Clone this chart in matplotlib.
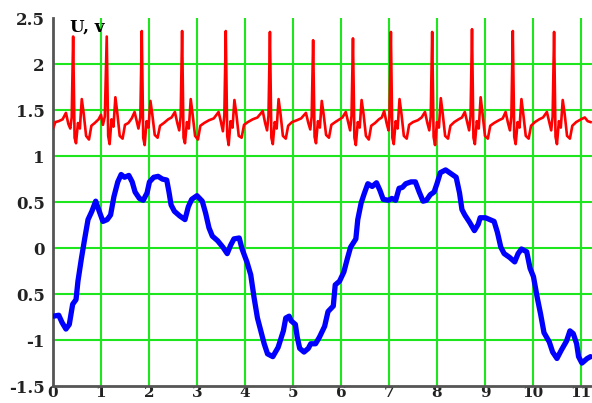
import matplotlib
matplotlib.use("Agg")
import matplotlib.pyplot as plt

# ECG-like reference signal (upper trace), volts vs time
ecg_t = [
    0.00, 0.05, 0.12, 0.20, 0.27, 0.32, 0.36, 0.39, 0.42, 0.45, 0.48, 0.52, 0.56, 0.60, 0.64, 0.69, 0.75, 0.80, 0.87, 0.95,
    1.00, 1.04, 1.08, 1.12, 1.15, 1.18, 1.22, 1.26, 1.30, 1.34, 1.39, 1.45, 1.50, 1.57, 1.64,
    1.70, 1.75, 1.78, 1.82, 1.85, 1.88, 1.91, 1.95, 1.99, 2.03, 2.07, 2.12, 2.18, 2.23, 2.31, 2.40, 2.47,
    2.54, 2.59, 2.63, 2.66, 2.69, 2.72, 2.75, 2.79, 2.83, 2.87, 2.91, 2.96, 3.02, 3.07, 3.15, 3.25, 3.35,
    3.45, 3.50, 3.54, 3.57, 3.60, 3.63, 3.66, 3.70, 3.74, 3.78, 3.82, 3.87, 3.93, 3.98, 4.06, 4.16, 4.26,
    4.37, 4.42, 4.46, 4.49, 4.52, 4.55, 4.58, 4.62, 4.66, 4.70, 4.74, 4.79, 4.85, 4.90, 4.98, 5.08, 5.17,
    5.27, 5.32, 5.36, 5.39, 5.42, 5.45, 5.48, 5.52, 5.56, 5.60, 5.64, 5.69, 5.75, 5.80, 5.88, 5.97, 6.03,
    6.10, 6.15, 6.19, 6.22, 6.25, 6.28, 6.31, 6.35, 6.39, 6.43, 6.47, 6.52, 6.58, 6.63, 6.71, 6.79, 6.85,
    6.90, 6.95, 6.99, 7.01, 7.04, 7.07, 7.10, 7.14, 7.18, 7.22, 7.26, 7.31, 7.37, 7.42, 7.50, 7.60, 7.68,
    7.75, 7.80, 7.84, 7.87, 7.90, 7.93, 7.96, 8.00, 8.04, 8.08, 8.12, 8.17, 8.23, 8.28, 8.36, 8.45, 8.52,
    8.58, 8.63, 8.67, 8.70, 8.73, 8.76, 8.79, 8.83, 8.87, 8.91, 8.95, 9.00, 9.06, 9.11, 9.19, 9.29, 9.37,
    9.43, 9.48, 9.52, 9.55, 9.58, 9.61, 9.64, 9.68, 9.72, 9.76, 9.80, 9.85, 9.91, 9.96, 10.04, 10.13, 10.21,
    10.29, 10.34, 10.38, 10.41, 10.44, 10.47, 10.50, 10.54, 10.58, 10.62, 10.66, 10.71, 10.77, 10.82, 10.90, 11.00, 11.08, 11.14, 11.20,
]
ecg_u = [
    1.30, 1.37, 1.38, 1.40, 1.47, 1.35, 1.30, 1.42, 2.30, 1.20, 1.14, 1.36, 1.30, 1.62, 1.46, 1.22, 1.18, 1.33, 1.36, 1.40,
    1.45, 1.34, 1.43, 2.30, 1.22, 1.13, 1.40, 1.32, 1.64, 1.47, 1.22, 1.19, 1.34, 1.36, 1.41,
    1.48, 1.37, 1.30, 1.42, 2.36, 1.20, 1.12, 1.38, 1.31, 1.60, 1.45, 1.23, 1.20, 1.33, 1.36, 1.40, 1.42,
    1.48, 1.36, 1.28, 1.43, 2.36, 1.20, 1.14, 1.37, 1.30, 1.62, 1.45, 1.22, 1.18, 1.33, 1.36, 1.39, 1.41,
    1.48, 1.37, 1.27, 1.44, 2.36, 1.22, 1.12, 1.38, 1.31, 1.61, 1.46, 1.22, 1.20, 1.34, 1.37, 1.40, 1.42,
    1.49, 1.36, 1.28, 1.44, 2.35, 1.20, 1.13, 1.37, 1.30, 1.62, 1.46, 1.22, 1.19, 1.33, 1.37, 1.39, 1.41,
    1.47, 1.36, 1.29, 1.43, 2.26, 1.21, 1.14, 1.38, 1.31, 1.60, 1.45, 1.23, 1.20, 1.34, 1.37, 1.40, 1.42,
    1.48, 1.37, 1.28, 1.44, 2.28, 1.20, 1.12, 1.37, 1.31, 1.61, 1.46, 1.22, 1.18, 1.33, 1.36, 1.40, 1.42,
    1.49, 1.36, 1.28, 1.43, 2.35, 1.20, 1.13, 1.38, 1.30, 1.62, 1.46, 1.22, 1.19, 1.34, 1.37, 1.39, 1.42,
    1.48, 1.36, 1.28, 1.43, 2.35, 1.21, 1.12, 1.37, 1.31, 1.63, 1.46, 1.22, 1.19, 1.33, 1.37, 1.40, 1.42,
    1.48, 1.37, 1.28, 1.44, 2.38, 1.20, 1.13, 1.38, 1.30, 1.64, 1.46, 1.22, 1.19, 1.33, 1.36, 1.39, 1.41,
    1.48, 1.36, 1.28, 1.43, 2.36, 1.21, 1.13, 1.37, 1.31, 1.62, 1.45, 1.22, 1.19, 1.33, 1.37, 1.40, 1.42,
    1.48, 1.37, 1.28, 1.43, 2.35, 1.21, 1.13, 1.38, 1.31, 1.61, 1.46, 1.22, 1.19, 1.33, 1.37, 1.40, 1.42, 1.38, 1.37,
]

# slow wave (lower trace)
wave_t = [
    0.01, 0.12, 0.19, 0.27, 0.34, 0.41, 0.48, 0.52, 0.59, 0.66, 0.73, 0.81, 0.89, 0.95, 1.04, 1.13, 1.20,
    1.27, 1.35, 1.42, 1.49, 1.58, 1.65, 1.71, 1.80, 1.88, 1.96, 2.01, 2.10, 2.19, 2.28, 2.37, 2.42, 2.46,
    2.53, 2.64, 2.75, 2.82, 2.89, 3.00, 3.11, 3.18, 3.25, 3.32, 3.43, 3.54, 3.63, 3.70, 3.77, 3.88, 3.94,
    4.04, 4.12, 4.19, 4.26, 4.33, 4.40, 4.47, 4.58, 4.69, 4.80, 4.85, 4.92, 4.96, 5.05, 5.09, 5.14, 5.23,
    5.32, 5.37, 5.47, 5.55, 5.66, 5.73, 5.84, 5.88, 5.97, 6.06, 6.13, 6.20, 6.31, 6.35, 6.42, 6.49, 6.56,
    6.65, 6.74, 6.81, 6.88, 6.99, 7.06, 7.14, 7.21, 7.28, 7.35, 7.46, 7.55, 7.63, 7.71, 7.78, 7.86, 7.94,
    8.00, 8.07, 8.18, 8.29, 8.40, 8.47, 8.52, 8.58, 8.68, 8.78, 8.86, 8.90, 9.01, 9.19, 9.26, 9.33, 9.40,
    9.51, 9.62, 9.69, 9.76, 9.87, 9.94, 10.01, 10.09, 10.16, 10.23, 10.34, 10.41, 10.50, 10.59, 10.70,
    10.77, 10.84, 10.91, 10.95, 11.02, 11.13, 11.20,
]
wave_u = [
    -0.74, -0.73, -0.81, -0.88, -0.83, -0.61, -0.56, -0.36, -0.12, 0.10, 0.31, 0.40, 0.51, 0.42, 0.29, 0.31, 0.36,
    0.56, 0.72, 0.80, 0.77, 0.79, 0.72, 0.61, 0.54, 0.52, 0.60, 0.72, 0.77, 0.78, 0.75, 0.74, 0.60, 0.47,
    0.40, 0.35, 0.31, 0.45, 0.53, 0.57, 0.51, 0.38, 0.22, 0.13, 0.08, 0.01, -0.06, 0.03, 0.10, 0.11, -0.01,
    -0.15, -0.29, -0.54, -0.76, -0.90, -1.04, -1.15, -1.18, -1.08, -0.90, -0.76, -0.74, -0.79, -0.83, -0.97, -1.09, -1.13,
    -1.09, -1.04, -1.04, -0.97, -0.85, -0.69, -0.63, -0.40, -0.36, -0.26, -0.12, 0.01, 0.10, 0.31, 0.49, 0.60, 0.70,
    0.67, 0.71, 0.63, 0.53, 0.52, 0.54, 0.52, 0.65, 0.66, 0.70, 0.72, 0.72, 0.61, 0.51, 0.52, 0.58, 0.61,
    0.70, 0.82, 0.85, 0.81, 0.77, 0.60, 0.42, 0.36, 0.28, 0.19, 0.26, 0.33, 0.33, 0.29, 0.17, 0.01, -0.06,
    -0.10, -0.15, -0.06, -0.01, -0.04, -0.22, -0.31, -0.54, -0.72, -0.92, -1.02, -1.13, -1.20, -1.11, -1.01,
    -0.90, -0.93, -1.04, -1.18, -1.25, -1.20, -1.18,
]

x_ticks = list(range(0, 12))
y_ticks = [2.5, 2, 1.5, 1, 0.5, 0, -0.5, -1, -1.5]
y_labels = ["2.5", "2", "1.5", "1", "0.5", "0", "0.5", "-1", "-1.5"]
grid_y = [2, 1.5, 1, 0.5, 0, -0.5, -1]

font = {"family": "DejaVu Serif", "weight": "bold", "size": 12}
xfont = {"family": "DejaVu Serif", "weight": "bold", "size": 11}

fig = plt.figure(figsize=(5.92, 4.03), dpi=100)
ax = fig.add_axes([0.0895, 0.042, 0.9105, 0.913])

grid_color = "#1ee61e"
for gx in x_ticks:
    ax.axvline(gx, color=grid_color, lw=1.5, zorder=1)
for gy in grid_y:
    ax.axhline(gy, color=grid_color, lw=1.5, zorder=1)

ax.plot(ecg_t, ecg_u, color="red", lw=1.9, zorder=3)
ax.plot(wave_t, wave_u, color="blue", lw=3.8, zorder=3,
        solid_joinstyle="round", solid_capstyle="round")

ax.set_xlim(0, 11.23)
ax.set_ylim(-1.5, 2.5)

ax.set_xticks(x_ticks)
ax.set_xticklabels([str(v) for v in x_ticks], fontdict=xfont)
ax.set_yticks(y_ticks)
ax.set_yticklabels(y_labels, fontdict=font)
ax.tick_params(axis="y", length=0, pad=6, colors="#222222")
ax.tick_params(axis="x", length=0, pad=0, colors="#222222")

for side in ("top", "right"):
    ax.spines[side].set_visible(False)
for side in ("left", "bottom"):
    ax.spines[side].set_color("#555555")
    ax.spines[side].set_linewidth(2)

ax.text(0.35, 2.49, "U, v", ha="left", va="top", zorder=4, **font)

fig.savefig("out.png", dpi=100)
